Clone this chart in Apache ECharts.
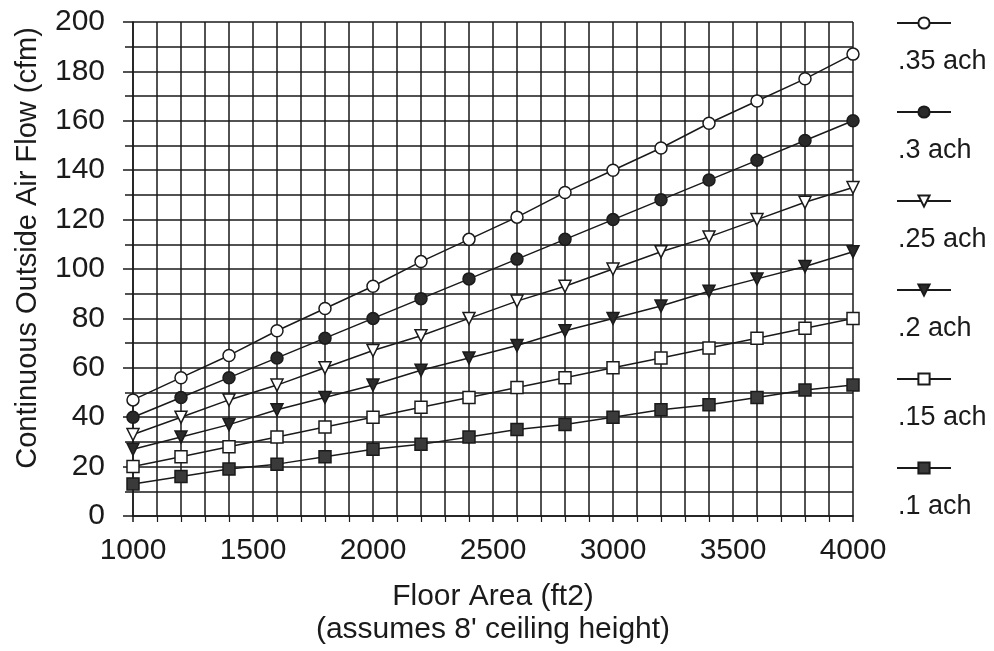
<!DOCTYPE html>
<html>
<head>
<meta charset="utf-8">
<script src="https://cdn.jsdelivr.net/npm/echarts@6/dist/echarts.min.js"></script>
<style>html,body{margin:0;padding:0;background:#fff;}#c{width:994px;height:651px;}</style>
</head>
<body>
<div id="c"></div>
<script>
const floorArea = [1000,1200,1400,1600,1800,2000,2200,2400,2600,2800,3000,3200,3400,3600,3800,4000];
const ach035 = [47,56,65,75,84,93,103,112,121,131,140,149,159,168,177,187];
const ach030 = [40,48,56,64,72,80,88,96,104,112,120,128,136,144,152,160];
const ach025 = [33,40,47,53,60,67,73,80,87,93,100,107,113,120,127,133];
const ach020 = [27,32,37,43,48,53,59,64,69,75,80,85,91,96,101,107];
const ach015 = [20,24,28,32,36,40,44,48,52,56,60,64,68,72,76,80];
const ach010 = [13,16,19,21,24,27,29,32,35,37,40,43,45,48,51,53];
const seriesNames = ['.35 ach','.3 ach','.25 ach','.2 ach','.15 ach','.1 ach'];
const seriesData = [ach035, ach030, ach025, ach020, ach015, ach010];
const xTicks = [1000,1500,2000,2500,3000,3500,4000];
const yTicks = [0,20,40,60,80,100,120,140,160,180,200];

const FONT = 'Liberation Sans, Arial, sans-serif';
const INK = '#1a1a1a';
const markers = [
  {symbol:'circle', fill:'#fff', size:12, rot:0},
  {symbol:'circle', fill:'#2a2a2a', size:12, rot:0},
  {symbol:'triangle', fill:'#fff', size:12, rot:180},
  {symbol:'triangle', fill:'#2a2a2a', size:12, rot:180},
  {symbol:'rect', fill:'#fff', size:12, rot:0},
  {symbol:'rect', fill:'#3a3a3a', size:12, rot:0}
];

const series = seriesNames.map((n,i)=>({
  name:n, type:'line',
  data: floorArea.map((x,j)=>[x, seriesData[i][j]]),
  symbol: markers[i].symbol, symbolSize: markers[i].size, symbolRotate: markers[i].rot,
  showAllSymbol:true,
  lineStyle:{color:INK, width:1.5},
  itemStyle:{color:markers[i].fill, borderColor:INK, borderWidth:1.5},
  z:5, animation:false
}));

const legendRowY = [23,112,201,290,379,468];
const legends = seriesNames.map((n,i)=>({
  data:[n], left:896, top:legendRowY[i]-7, itemWidth:54, itemHeight:14, padding:0,
  formatter:()=> '', selectedMode:false,
  textStyle:{fontSize:1}
}));
const labels = seriesNames.map((n,i)=>({
  type:'text', left:898, top:legendRowY[i]+25,
  style:{text:n, font:'27px ' + FONT, fill:INK}
}));
labels.push({
  type:'text', x:28, y:248, rotation:Math.PI/2,
  style:{text:'Continuous Outside Air Flow (cfm)', font:'29px ' + FONT, fill:INK,
    textAlign:'center', textVerticalAlign:'middle'}
});

const chart = echarts.init(document.getElementById('c'), null, {renderer:'canvas'});
chart.setOption({
  animation:false,
  backgroundColor:'#fff',
  grid:{left:133, right:141, top:22, bottom:132, containLabel:false},
  legend: legends,
  graphic: labels,
  xAxis:{
    type:'value', min:1000, max:4000, interval:500,
    name:'Floor Area (ft2)\n(assumes 8\' ceiling height)',
    nameLocation:'middle', nameGap:64,
    nameTextStyle:{fontSize:30, fontFamily:FONT, color:INK, lineHeight:33},
    axisLine:{show:true, lineStyle:{color:INK, width:1.5}},
    axisTick:{show:true, length:6, lineStyle:{color:INK, width:1.5}},
    minorTick:{show:true, splitNumber:5, length:6, lineStyle:{color:INK, width:1.2}},
    splitLine:{show:true, lineStyle:{color:INK, width:1.5}},
    minorSplitLine:{show:true, lineStyle:{color:INK, width:1.5}},
    axisLabel:{fontSize:30, fontFamily:FONT, color:INK, margin:20,
      formatter:v=> xTicks.includes(v) ? String(v) : ''}
  },
  yAxis:{
    type:'value', min:0, max:200, interval:20,
    axisLine:{show:true, lineStyle:{color:INK, width:1.5}},
    axisTick:{show:true, length:10, lineStyle:{color:INK, width:1.5}},
    minorTick:{show:true, splitNumber:2, length:8, lineStyle:{color:INK, width:1.5}},
    splitLine:{show:true, lineStyle:{color:INK, width:1.5}},
    minorSplitLine:{show:true, lineStyle:{color:INK, width:1.5}},
    axisLabel:{fontSize:30, fontFamily:FONT, color:INK, margin:28,
      formatter:v=> yTicks.includes(v) ? String(v) : ''}
  },
  series: series
});
</script>
</body>
</html>
